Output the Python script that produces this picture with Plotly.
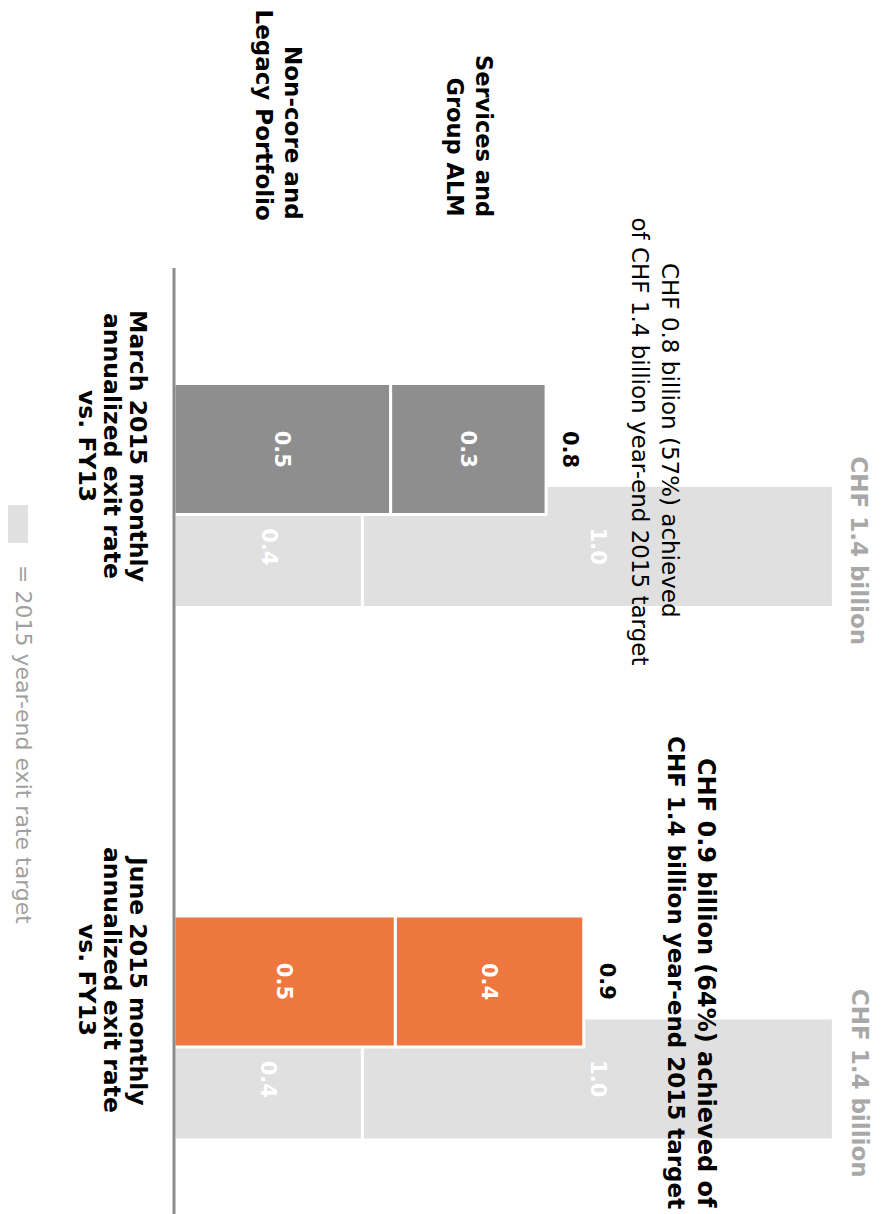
import plotly.graph_objects as go

# ---------------- data ----------------
cat_pos = [0, 1]
cat_lines = [
    ["March 2015 monthly", "annualized exit rate", "vs. FY13"],
    ["June 2015 monthly", "annualized exit rate", "vs. FY13"],
]
noncore = [0.46, 0.47]          # Non-core and Legacy Portfolio
services = [0.33, 0.40]         # Services and Group ALM
target_noncore = [0.4, 0.4]
target_services = [1.0, 1.0]
target_total_label = ["CHF 1.4 billion", "CHF 1.4 billion"]
note_lines = [
    ["CHF 0.8 billion (57%) achieved", "of CHF 1.4 billion year-end 2015 target"],
    ["CHF 0.9 billion (64%) achieved of", "CHF 1.4 billion year-end 2015 target"],
]
series_lines = {
    "Non-core and Legacy Portfolio": ["Non-core and", "Legacy Portfolio"],
    "Services and Group ALM": ["Services and", "Group ALM"],
}
legend_text = "= 2015 year-end exit rate target"

# ---------------- styles ----------------
PAGE = 8                      # default page margin of the html body
W, H = 882 - PAGE, 1214 - PAGE
FONT = "DejaVu Sans"
actual_colors = ["#8e8e8e", "#ee7740"]
target_color = "#e0e0e0"
X0_PX, X_SCALE = 174.0 - PAGE, 471.0      # pixel of value 0, px per unit
Y0_PX, Y_SCALE = 449.0 - PAGE, 532.5      # pixel of first category, px per category
ACT_W, ACT_OFF = 0.246, -0.123
TGT_W, TGT_OFF = 0.229, 0.0685

xr = [-X0_PX / X_SCALE, (W - X0_PX) / X_SCALE]
yr = [(H - Y0_PX) / Y_SCALE, -Y0_PX / Y_SCALE]


def px(x):
    return (x - PAGE) / W


def py(y):
    return 1 - (y - PAGE) / H


fig = go.Figure()
line_w = dict(color="white", width=3)

fig.add_trace(go.Bar(orientation="h", y=cat_pos, x=target_noncore, base=[0, 0],
                     width=TGT_W, offset=TGT_OFF, marker=dict(color=target_color, line=line_w),
                     showlegend=False, hoverinfo="skip"))
fig.add_trace(go.Bar(orientation="h", y=cat_pos, x=target_services, base=target_noncore,
                     width=TGT_W, offset=TGT_OFF, marker=dict(color=target_color, line=line_w),
                     showlegend=False, hoverinfo="skip"))
fig.add_trace(go.Bar(orientation="h", y=cat_pos, x=noncore, base=[0, 0],
                     width=ACT_W, offset=ACT_OFF, marker=dict(color=actual_colors, line=line_w),
                     showlegend=False, hoverinfo="skip"))
fig.add_trace(go.Bar(orientation="h", y=cat_pos, x=services, base=noncore,
                     width=ACT_W, offset=ACT_OFF, marker=dict(color=actual_colors, line=line_w),
                     showlegend=False, hoverinfo="skip"))

ann = []


def add(text, x, y, size, color="black", bold=False, xref="x", yref="y",
        xanchor="center", yanchor="middle", xshift=0):
    ann.append(dict(text=text, x=x, y=y, xref=xref, yref=yref, showarrow=False,
                    textangle=90, xanchor=xanchor, yanchor=yanchor, xshift=xshift,
                    font=dict(family=FONT, size=size, color=color,
                              weight="bold" if bold else "normal")))


for i, c in enumerate(cat_pos):
    yc_act = c + ACT_OFF + ACT_W / 2
    yc_tgt = c + TGT_OFF + TGT_W / 2
    # actual segment labels
    add(f"{noncore[i]:.1f}", noncore[i] / 2, yc_act, 21, "white", True)
    add(f"{services[i]:.1f}", noncore[i] + services[i] / 2, yc_act, 21, "white", True)
    add(f"{noncore[i] + services[i]:.1f}", noncore[i] + services[i], yc_act, 21, "black", True,
        xshift=24)
    # target segment labels
    add(f"{target_noncore[i]:.1f}", target_noncore[i] / 2, yc_tgt, 21, "white", True)
    add(f"{target_services[i]:.1f}", target_noncore[i] + target_services[i] / 2, yc_tgt, 21,
        "white", True)
    add(target_total_label[i], target_noncore[i] + target_services[i], yc_tgt + 0.008, 23,
        "#a8a8a8", True, xshift=26)

# category labels (rotated frame: lines step leftwards)
cat_line_x = [138, 112, 87]
cat_centers_y = [446, 980]
for i in range(2):
    for j, t in enumerate(cat_lines[i]):
        add(t, px(cat_line_x[j]), py(cat_centers_y[i]), 23.5, "black", True, "paper", "paper")

# notes
add(note_lines[0][0], px(670), py(440), 23, "black", False, "paper", "paper")
add(note_lines[0][1], px(639), py(441.5), 23, "black", False, "paper", "paper")
add(note_lines[1][0], px(706), py(983), 24, "black", True, "paper", "paper")
add(note_lines[1][1], px(676), py(972), 23, "black", True, "paper", "paper")

# series labels (right aligned in rotated frame -> end at y=220)
s1 = series_lines["Services and Group ALM"]
s2 = series_lines["Non-core and Legacy Portfolio"]
add(s1[0], px(484), py(219), 22.5, "black", True, "paper", "paper", yanchor="bottom")
add(s1[1], px(455), py(219), 22.5, "black", True, "paper", "paper", yanchor="bottom")
add(s2[0], px(293), py(222), 23, "black", True, "paper", "paper", yanchor="bottom")
add(s2[1], px(263), py(222), 23, "black", True, "paper", "paper", yanchor="bottom")

# legend text
add(legend_text, px(24), py(744), 22, "#a0a0a0", False, "paper", "paper")

shapes = [
    dict(type="line", xref="x", yref="paper", x0=0, x1=0, y0=0, y1=py(268),
         line=dict(color="#8c8c8c", width=3)),
    dict(type="rect", xref="paper", yref="paper", x0=0, x1=px(28), y0=py(543), y1=py(505),
         fillcolor=target_color, line=dict(width=0)),
]

fig.update_layout(
    width=W, height=H, margin=dict(l=0, r=0, t=0, b=0),
    paper_bgcolor="white", plot_bgcolor="white",
    barmode="overlay", showlegend=False,
    xaxis=dict(range=xr, visible=False, fixedrange=True),
    yaxis=dict(range=yr, visible=False, fixedrange=True),
    annotations=ann, shapes=shapes,
)

fig.write_html("out.html")
